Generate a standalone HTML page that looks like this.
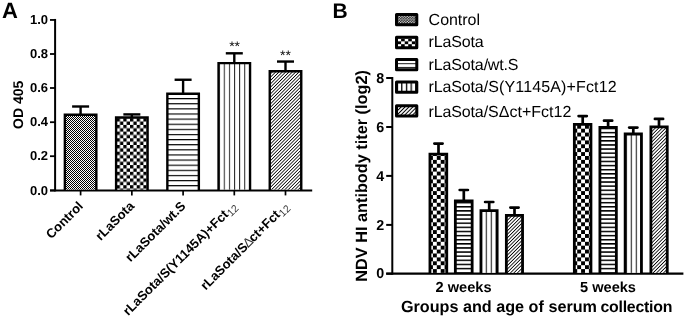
<!DOCTYPE html>
<html><head><meta charset="utf-8"><title>Figure</title>
<style>
html,body{margin:0;padding:0;background:#fff;}
svg{display:block;will-change:transform;font-family:"Liberation Sans",sans-serif;fill:#000;text-rendering:geometricPrecision;}
.b{font-weight:bold;}
.sub{font-weight:normal;fill:#333;}
</style></head><body>
<svg width="685" height="318" viewBox="0 0 685 318">
<rect width="685" height="318" fill="#fff"/>
<defs>
<pattern id="p1" x="0" y="0" width="2" height="2" patternUnits="userSpaceOnUse"><rect width="2" height="2" fill="#fff"/><rect x="0" y="0" width="1" height="1" fill="#000"/><rect x="1" y="1" width="1" height="1" fill="#000"/></pattern>
<pattern id="p2" x="2.6999999999999997" y="4.3" width="6.7" height="6.7" patternUnits="userSpaceOnUse"><rect width="6.7" height="6.7" fill="#fff"/><rect x="0" y="0" width="3.35" height="3.35" fill="#000"/><rect x="3.35" y="3.35" width="3.35" height="3.35" fill="#000"/></pattern>
<pattern id="p3" x="0" y="0.8000000000000002" width="5.12" height="5.12" patternUnits="userSpaceOnUse"><rect width="5.12" height="5.12" fill="#fff"/><rect x="0" y="0" width="5.12" height="1.15" fill="#000"/></pattern>
<pattern id="p4" x="3.15" y="0" width="5.13" height="5.13" patternUnits="userSpaceOnUse"><rect width="5.13" height="5.13" fill="#fff"/><rect x="0" y="0" width="1.0" height="5.13" fill="#222"/></pattern>
<pattern id="p5" width="2.36" height="2.36" patternUnits="userSpaceOnUse" patternTransform="rotate(-45) translate(0 0)"><rect width="2.36" height="2.36" fill="#fff"/><rect x="0" y="0" width="2.36" height="0.8" fill="#000"/></pattern>
<pattern id="q2" x="0" y="0" width="7.8" height="7.8" patternUnits="userSpaceOnUse"><rect width="7.8" height="7.8" fill="#fff"/><rect x="0" y="0" width="3.9" height="3.9" fill="#000"/><rect x="3.9" y="3.9" width="3.9" height="3.9" fill="#000"/></pattern>
<pattern id="q3" x="0" y="0" width="4.12" height="4.12" patternUnits="userSpaceOnUse"><rect width="4.12" height="4.12" fill="#fff"/><rect x="0" y="0" width="4.12" height="1.5" fill="#000"/></pattern>
<pattern id="q4" x="0.75" y="0" width="5.0" height="5.0" patternUnits="userSpaceOnUse"><rect width="5.0" height="5.0" fill="#fff"/><rect x="0" y="0" width="1.1" height="5.0" fill="#222"/></pattern>
<pattern id="q5" width="2.46" height="2.46" patternUnits="userSpaceOnUse" patternTransform="rotate(-45) translate(0 0)"><rect width="2.46" height="2.46" fill="#fff"/><rect x="0" y="0" width="2.46" height="0.85" fill="#000"/></pattern>
<pattern id="l1" x="0.3" y="0.55" width="2.7" height="2.7" patternUnits="userSpaceOnUse"><rect width="2.7" height="2.7" fill="#000"/><circle cx="0.675" cy="0.675" r="0.74" fill="#fff"/><circle cx="2.025" cy="2.025" r="0.74" fill="#fff"/></pattern>
<pattern id="l2" x="394.05" y="38.5" width="7.1" height="5.7" patternUnits="userSpaceOnUse"><rect width="7.1" height="5.7" fill="#fff"/><rect x="0" y="0" width="3.55" height="2.85" fill="#000"/><rect x="3.55" y="2.85" width="3.55" height="2.85" fill="#000"/></pattern>
<pattern id="l3" x="0" y="2.1" width="3.6" height="3.6" patternUnits="userSpaceOnUse"><rect width="3.6" height="3.6" fill="#fff"/><rect x="0" y="0" width="3.6" height="0.9" fill="#000"/></pattern>
<pattern id="l4" x="1.65" y="0" width="4.7" height="4.7" patternUnits="userSpaceOnUse"><rect width="4.7" height="4.7" fill="#fff"/><rect x="0" y="0" width="1.3" height="4.7" fill="#000"/></pattern>
<pattern id="l5" width="2.76" height="2.76" patternUnits="userSpaceOnUse" patternTransform="rotate(-45) translate(0 0)"><rect width="2.76" height="2.76" fill="#fff"/><rect x="0" y="0" width="2.76" height="1.0" fill="#000"/></pattern>
</defs>
<text x="2.0" y="18" class="b" font-size="22">A</text>
<line x1="55.1" y1="18.95" x2="55.1" y2="191.4" stroke="#000" stroke-width="2"/>
<line x1="50.0" y1="190.4" x2="312.2" y2="190.4" stroke="#000" stroke-width="2"/>
<line x1="50.0" y1="19.95" x2="55.1" y2="19.95" stroke="#000" stroke-width="1.8"/>
<text x="48.0" y="24.1" class="b" font-size="13" text-anchor="end">1.0</text>
<line x1="50.0" y1="54.0" x2="55.1" y2="54.0" stroke="#000" stroke-width="1.8"/>
<text x="48.0" y="58.1" class="b" font-size="13" text-anchor="end">0.8</text>
<line x1="50.0" y1="88.0" x2="55.1" y2="88.0" stroke="#000" stroke-width="1.8"/>
<text x="48.0" y="92.2" class="b" font-size="13" text-anchor="end">0.6</text>
<line x1="50.0" y1="122.2" x2="55.1" y2="122.2" stroke="#000" stroke-width="1.8"/>
<text x="48.0" y="126.4" class="b" font-size="13" text-anchor="end">0.4</text>
<line x1="50.0" y1="156.2" x2="55.1" y2="156.2" stroke="#000" stroke-width="1.8"/>
<text x="48.0" y="160.3" class="b" font-size="13" text-anchor="end">0.2</text>
<line x1="50.0" y1="190.4" x2="55.1" y2="190.4" stroke="#000" stroke-width="1.8"/>
<text x="48.0" y="194.6" class="b" font-size="13" text-anchor="end">0.0</text>
<text transform="translate(23.1,104.8) rotate(-90)" class="b" font-size="14" text-anchor="middle">OD 405</text>
<line x1="80.60" y1="106.50" x2="80.60" y2="114.50" stroke="#000" stroke-width="2.4"/><line x1="72.10" y1="106.50" x2="89.10" y2="106.50" stroke="#000" stroke-width="2.4"/>
<rect x="64.85" y="114.70" width="31.50" height="74.80" fill="url(#p1)"/><path d="M64.85 190.40V114.70H96.35V190.40" fill="none" stroke="#000" stroke-width="2.4"/>
<line x1="80.6" y1="190.4" x2="80.6" y2="195.4" stroke="#000" stroke-width="1.7"/>
<line x1="131.85" y1="114.40" x2="131.85" y2="117.30" stroke="#000" stroke-width="2.4"/><line x1="123.35" y1="114.40" x2="140.35" y2="114.40" stroke="#000" stroke-width="2.4"/>
<rect x="116.10" y="117.50" width="31.50" height="72.00" fill="url(#p2)"/><path d="M116.10 190.40V117.50H147.60V190.40" fill="none" stroke="#000" stroke-width="2.4"/>
<line x1="131.85" y1="190.4" x2="131.85" y2="195.4" stroke="#000" stroke-width="1.7"/>
<line x1="183.10" y1="79.75" x2="183.10" y2="93.60" stroke="#000" stroke-width="2.4"/><line x1="174.60" y1="79.75" x2="191.60" y2="79.75" stroke="#000" stroke-width="2.4"/>
<rect x="167.35" y="93.80" width="31.50" height="95.70" fill="url(#p3)"/><path d="M167.35 190.40V93.80H198.85V190.40" fill="none" stroke="#000" stroke-width="2.4"/>
<line x1="183.1" y1="190.4" x2="183.1" y2="195.4" stroke="#000" stroke-width="1.7"/>
<line x1="234.30" y1="53.30" x2="234.30" y2="62.90" stroke="#000" stroke-width="2.4"/><line x1="225.80" y1="53.30" x2="242.80" y2="53.30" stroke="#000" stroke-width="2.4"/>
<rect x="218.55" y="63.10" width="31.50" height="126.40" fill="url(#p4)"/><path d="M218.55 190.40V63.10H250.05V190.40" fill="none" stroke="#000" stroke-width="2.4"/>
<line x1="234.3" y1="190.4" x2="234.3" y2="195.4" stroke="#000" stroke-width="1.7"/>
<line x1="285.50" y1="61.55" x2="285.50" y2="71.05" stroke="#000" stroke-width="2.4"/><line x1="277.00" y1="61.55" x2="294.00" y2="61.55" stroke="#000" stroke-width="2.4"/>
<rect x="269.75" y="71.25" width="31.50" height="118.25" fill="url(#p5)"/><path d="M269.75 190.40V71.25H301.25V190.40" fill="none" stroke="#000" stroke-width="2.4"/>
<line x1="285.5" y1="190.4" x2="285.5" y2="195.4" stroke="#000" stroke-width="1.7"/>
<text x="234.6" y="50.6" font-size="14" text-anchor="middle">**</text>
<text x="285.4" y="60.4" font-size="14" text-anchor="middle">**</text>
<text transform="translate(83.9,206.9) rotate(-45)" class="b" font-size="13" text-anchor="end">Control</text>
<text transform="translate(135.0,206.9) rotate(-45)" class="b" font-size="13" text-anchor="end">rLaSota</text>
<text transform="translate(186.3,206.9) rotate(-45)" class="b" font-size="13" text-anchor="end">rLaSota/wt.S</text>
<text transform="translate(237.4,206.9) rotate(-45)" class="b" font-size="13" text-anchor="end">rLaSota/S(Y1145A)+Fct<tspan class="sub" font-size="10.3" dx="0.3" dy="2.8">12</tspan></text>
<text transform="translate(289.2,207.2) rotate(-45)" class="b" font-size="13" text-anchor="end">rLaSota/S<tspan class="sub" font-size="13" dx="-0.8">&#916;</tspan><tspan dx="-0.9">ct+Fct</tspan><tspan class="sub" font-size="10.3" dx="0.3" dy="2.8">12</tspan></text>
<text x="332.6" y="18" class="b" font-size="21">B</text>
<line x1="392.3" y1="77.0" x2="392.3" y2="274.7" stroke="#000" stroke-width="2"/>
<line x1="386.2" y1="273.7" x2="683.4" y2="273.7" stroke="#000" stroke-width="2.3"/>
<line x1="386.2" y1="78.0" x2="392.3" y2="78.0" stroke="#000" stroke-width="2"/>
<text x="384.3" y="82.6" class="b" font-size="14.3" text-anchor="end">8</text>
<line x1="386.2" y1="127.0" x2="392.3" y2="127.0" stroke="#000" stroke-width="2"/>
<text x="384.3" y="131.6" class="b" font-size="14.3" text-anchor="end">6</text>
<line x1="386.2" y1="175.9" x2="392.3" y2="175.9" stroke="#000" stroke-width="2"/>
<text x="384.3" y="180.5" class="b" font-size="14.3" text-anchor="end">4</text>
<line x1="386.2" y1="224.9" x2="392.3" y2="224.9" stroke="#000" stroke-width="2"/>
<text x="384.3" y="229.5" class="b" font-size="14.3" text-anchor="end">2</text>
<line x1="386.2" y1="273.7" x2="392.3" y2="273.7" stroke="#000" stroke-width="2"/>
<text x="384.3" y="278.3" class="b" font-size="14.3" text-anchor="end">0</text>
<text transform="translate(367.3,175.9) rotate(-90)" class="b" font-size="16.3" text-anchor="middle">NDV HI antibody titer (log2)</text>
<rect x="396.5" y="14.55" width="20.3" height="10.3" fill="url(#l1)" stroke="#000" stroke-width="3" stroke-linejoin="round"/>
<text x="428.6" y="24.70" font-size="16" textLength="51.4" lengthAdjust="spacing">Control</text>
<rect x="396.5" y="37.35" width="20.3" height="10.3" fill="url(#l2)" stroke="#000" stroke-width="3" stroke-linejoin="round"/>
<text x="428.6" y="47.45" font-size="16" textLength="55.05" lengthAdjust="spacing">rLaSota</text>
<rect x="396.5" y="59.45" width="20.3" height="10.3" fill="url(#l3)" stroke="#000" stroke-width="3" stroke-linejoin="round"/>
<text x="428.6" y="69.50" font-size="16" textLength="55.05" lengthAdjust="spacing">rLaSota</text>
<text x="483.65" y="69.50" font-size="16" textLength="34.65" lengthAdjust="spacing">/wt.S</text>
<rect x="396.5" y="81.95" width="20.3" height="10.3" fill="url(#l4)" stroke="#000" stroke-width="3" stroke-linejoin="round"/>
<text x="428.6" y="92.30" font-size="16" textLength="55.05" lengthAdjust="spacing">rLaSota</text>
<text x="483.65" y="92.30" font-size="16" textLength="132.95" lengthAdjust="spacing">/S(Y1145A)+Fct12</text>
<rect x="396.5" y="105.75" width="20.3" height="10.3" fill="url(#l5)" stroke="#000" stroke-width="3" stroke-linejoin="round"/>
<text x="428.6" y="116.50" font-size="16" textLength="55.05" lengthAdjust="spacing">rLaSota</text>
<text x="483.65" y="116.50" font-size="16" textLength="87.65" lengthAdjust="spacing">/S&#916;ct+Fct12</text>
<line x1="438.50" y1="143.60" x2="438.50" y2="153.80" stroke="#000" stroke-width="2.7"/>
<line x1="434.40" y1="143.60" x2="442.60" y2="143.60" stroke="#000" stroke-width="2.7" stroke-linecap="round"/>
<rect x="429.95" y="154.20" width="16.80" height="118.60" fill="url(#q2)"/><path d="M429.95 273.70V154.20H446.75V273.70" fill="none" stroke="#000" stroke-width="2.8"/>
<line x1="463.80" y1="190.00" x2="463.80" y2="200.50" stroke="#000" stroke-width="2.7"/>
<line x1="459.70" y1="190.00" x2="467.90" y2="190.00" stroke="#000" stroke-width="2.7" stroke-linecap="round"/>
<rect x="455.35" y="200.90" width="16.80" height="71.90" fill="url(#q3)"/><path d="M455.35 273.70V200.90H472.15V273.70" fill="none" stroke="#000" stroke-width="2.8"/>
<line x1="489.20" y1="202.00" x2="489.20" y2="210.30" stroke="#000" stroke-width="2.7"/>
<line x1="485.10" y1="202.00" x2="493.30" y2="202.00" stroke="#000" stroke-width="2.7" stroke-linecap="round"/>
<rect x="480.95" y="210.70" width="16.20" height="62.10" fill="url(#q4)"/><path d="M480.95 273.70V210.70H497.15V273.70" fill="none" stroke="#000" stroke-width="2.8"/>
<line x1="514.50" y1="207.60" x2="514.50" y2="214.90" stroke="#000" stroke-width="2.7"/>
<line x1="510.40" y1="207.60" x2="518.60" y2="207.60" stroke="#000" stroke-width="2.7" stroke-linecap="round"/>
<rect x="506.35" y="215.30" width="16.20" height="57.50" fill="url(#q5)"/><path d="M506.35 273.70V215.30H522.55V273.70" fill="none" stroke="#000" stroke-width="2.8"/>
<line x1="582.70" y1="116.10" x2="582.70" y2="124.00" stroke="#000" stroke-width="2.7"/>
<line x1="578.60" y1="116.10" x2="586.80" y2="116.10" stroke="#000" stroke-width="2.7" stroke-linecap="round"/>
<rect x="574.35" y="124.40" width="16.60" height="148.40" fill="url(#q2)"/><path d="M574.35 273.70V124.40H590.95V273.70" fill="none" stroke="#000" stroke-width="2.8"/>
<line x1="608.10" y1="120.70" x2="608.10" y2="126.90" stroke="#000" stroke-width="2.7"/>
<line x1="604.00" y1="120.70" x2="612.20" y2="120.70" stroke="#000" stroke-width="2.7" stroke-linecap="round"/>
<rect x="599.90" y="127.30" width="16.45" height="145.50" fill="url(#q3)"/><path d="M599.90 273.70V127.30H616.35V273.70" fill="none" stroke="#000" stroke-width="2.8"/>
<line x1="633.30" y1="127.60" x2="633.30" y2="133.60" stroke="#000" stroke-width="2.7"/>
<line x1="629.20" y1="127.60" x2="637.40" y2="127.60" stroke="#000" stroke-width="2.7" stroke-linecap="round"/>
<rect x="625.15" y="134.00" width="16.30" height="138.80" fill="url(#q4)"/><path d="M625.15 273.70V134.00H641.45V273.70" fill="none" stroke="#000" stroke-width="2.8"/>
<line x1="659.00" y1="118.90" x2="659.00" y2="126.50" stroke="#000" stroke-width="2.7"/>
<line x1="654.90" y1="118.90" x2="663.10" y2="118.90" stroke="#000" stroke-width="2.7" stroke-linecap="round"/>
<rect x="650.90" y="126.90" width="16.35" height="145.90" fill="url(#q5)"/><path d="M650.90 273.70V126.90H667.25V273.70" fill="none" stroke="#000" stroke-width="2.8"/>
<text x="463.6" y="292.4" class="b" font-size="14.6" text-anchor="middle">2 weeks</text>
<text x="608.0" y="292.4" class="b" font-size="14.6" text-anchor="middle">5 weeks</text>
<text x="400.9" y="311.8" class="b" font-size="16.2">Groups and age of serum</text>
<text x="600.4" y="311.8" class="b" font-size="15.9" textLength="72.0" lengthAdjust="spacing">collection</text>
</svg>
</body></html>
